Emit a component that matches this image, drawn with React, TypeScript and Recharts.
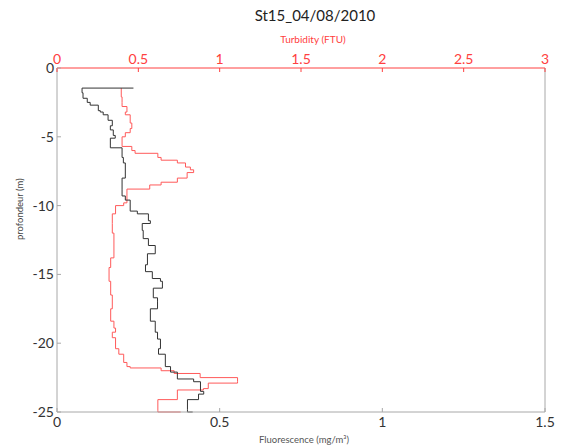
import { LineChart, Line, XAxis, YAxis } from 'recharts';

// depth in metres (positive down), drawn as negative labels
const fluoDepth = [1.46, 1.46, 1.8, 2.2, 2.5, 2.7, 3.1, 3.2, 3.4, 3.8, 4.2, 4.5, 4.9, 5.1, 5.6, 5.8, 6.5, 6.9, 8.0, 8.8, 9.3, 9.6, 10.4, 10.6, 11.1, 11.3, 11.8, 12.4, 12.9, 13.3, 13.5, 14.3, 14.8, 15.3, 15.5, 16.0, 16.7, 17.0, 17.5, 18.4, 19.2, 19.7, 20.4, 20.8, 21.7, 22.1, 22.6, 22.8, 23.5, 23.7, 24.1, 24.8, 25.0];
const fluoValues = [0.235, 0.077, 0.08, 0.093, 0.102, 0.127, 0.133, 0.142, 0.157, 0.17, 0.164, 0.173, 0.179, 0.164, 0.164, 0.2, 0.204, 0.21, 0.2, 0.2, 0.21, 0.225, 0.247, 0.281, 0.287, 0.262, 0.265, 0.281, 0.302, 0.302, 0.278, 0.272, 0.293, 0.318, 0.324, 0.296, 0.309, 0.309, 0.287, 0.302, 0.309, 0.318, 0.312, 0.333, 0.349, 0.37, 0.42, 0.441, 0.451, 0.435, 0.401, 0.401, 0.417];

const turbDepth = [1.46, 2.1, 2.5, 2.8, 3.2, 3.4, 4.0, 4.4, 4.7, 5.0, 5.6, 5.7, 6.0, 6.2, 6.5, 6.7, 6.9, 7.2, 7.4, 7.6, 8.0, 8.3, 8.5, 8.8, 9.8, 10.0, 10.6, 11.3, 12.0, 13.3, 13.8, 14.5, 15.5, 16.5, 17.5, 18.4, 18.9, 19.2, 19.6, 20.4, 20.8, 21.4, 21.7, 21.8, 22.0, 22.2, 22.5, 22.8, 22.9, 23.3, 23.4, 24.1, 24.9, 25.0];
const turbValues = [0.395, 0.4, 0.4, 0.43, 0.42, 0.45, 0.46, 0.45, 0.42, 0.4, 0.4, 0.46, 0.48, 0.62, 0.64, 0.74, 0.79, 0.82, 0.84, 0.8, 0.74, 0.64, 0.57, 0.43, 0.41, 0.36, 0.34, 0.34, 0.35, 0.35, 0.33, 0.32, 0.33, 0.34, 0.33, 0.35, 0.36, 0.34, 0.36, 0.38, 0.41, 0.43, 0.45, 0.64, 0.72, 0.88, 1.11, 1.11, 0.93, 0.9, 0.74, 0.62, 0.62, 0.76];

const depthTicks = [0, 5, 10, 15, 20, 25];
const fluoTicks = [0, 0.5, 1, 1.5];
const turbTicks = [0, 0.5, 1, 1.5, 2, 2.5, 3];

const fluoData = fluoDepth.map((d, i) => ({ depth: d, fluo: fluoValues[i] }));
const turbData = turbDepth.map((d, i) => ({ depth: d, turb: turbValues[i] }));

const FONT = 'Lato, "Open Sans", sans-serif';
const RED = '#ff4040';
const GREY = '#a8a8a8';

function BottomTick({ x, y, payload }: any) {
  return (
    <g>
      <line x1={x} y1={y} x2={x} y2={y - 4} stroke={GREY} />
      <text x={x} y={y + 15} textAnchor="middle" fontSize={14} fill="#333" fontFamily={FONT}>
        {payload.value}
      </text>
    </g>
  );
}

function TopTick({ x, y, payload }: any) {
  return (
    <g>
      <line x1={x} y1={y} x2={x} y2={y + 4} stroke={RED} />
      <text x={x} y={y - 4} textAnchor="middle" fontSize={14} fill={RED} fontFamily={FONT}>
        {payload.value}
      </text>
    </g>
  );
}

function LeftTick({ x, y, payload }: any) {
  return (
    <g>
      <line x1={x} y1={y} x2={x + 4} y2={y} stroke={GREY} />
      <text x={x - 3} y={y + 5} textAnchor="end" fontSize={14} fill="#333" fontFamily={FONT}>
        {payload.value === 0 ? '0' : `-${payload.value}`}
      </text>
    </g>
  );
}

export default function App() {
  return (
    <div style={{ position: 'absolute', left: 0, top: 0, width: 563, height: 446, background: '#fff' }}>
      <div
        style={{
          position: 'absolute',
          left: 0,
          width: 630,
          top: 6,
          textAlign: 'center',
          fontFamily: FONT,
          fontSize: 15,
          color: '#222',
        }}
      >
        St15_04/08/2010
      </div>
      <LineChart
        width={563}
        height={446}
        layout="vertical"
        margin={{ top: 0, right: 0, bottom: 0, left: 0 }}
        style={{ position: 'absolute', left: 0, top: 0 }}
      >
        <XAxis
          xAxisId="bottom"
          orientation="bottom"
          type="number"
          domain={[0, 1.5]}
          ticks={fluoTicks}
          height={34}
          stroke={GREY}
          tickLine={false}
          tickSize={0}
          tickMargin={0}
          tick={<BottomTick />}
          label={{ value: 'Fluorescence (mg/m³)', position: 'insideBottom', offset: 3, dx: 3, fontSize: 9.5, fill: '#555', fontFamily: FONT }}
        />
        <XAxis
          xAxisId="top"
          orientation="top"
          type="number"
          domain={[0, 3]}
          ticks={turbTicks}
          height={68}
          stroke={RED}
          tickLine={false}
          tickSize={0}
          tickMargin={0}
          tick={<TopTick />}
          label={{ value: 'Turbidity (FTU)', position: 'insideTop', offset: 36, dx: 12, fontSize: 10, fill: RED, fontFamily: FONT }}
        />
        <YAxis
          yAxisId="left"
          type="number"
          dataKey="depth"
          domain={[0, 25]}
          ticks={depthTicks}
          width={57}
          stroke={GREY}
          tickLine={false}
          tickSize={0}
          tickMargin={0}
          tick={<LeftTick />}
          label={{ value: 'profondeur  (m)', angle: -90, position: 'insideLeft', offset: 20, fontSize: 9.5, fill: '#444', fontFamily: FONT }}
        />
        <YAxis
          yAxisId="right"
          orientation="right"
          type="number"
          domain={[0, 25]}
          width={18}
          stroke={GREY}
          tick={false}
          tickLine={false}
        />
        <Line
          data={turbData}
          xAxisId="top"
          yAxisId="left"
          dataKey="turb"
          type="stepBefore"
          stroke="#ff5a5a"
          strokeWidth={1}
          dot={false}
          activeDot={false}
          isAnimationActive={false}
        />
        <Line
          data={fluoData}
          xAxisId="bottom"
          yAxisId="left"
          dataKey="fluo"
          type="stepBefore"
          stroke="#333"
          strokeWidth={1}
          dot={false}
          activeDot={false}
          isAnimationActive={false}
        />
      </LineChart>
    </div>
  );
}
